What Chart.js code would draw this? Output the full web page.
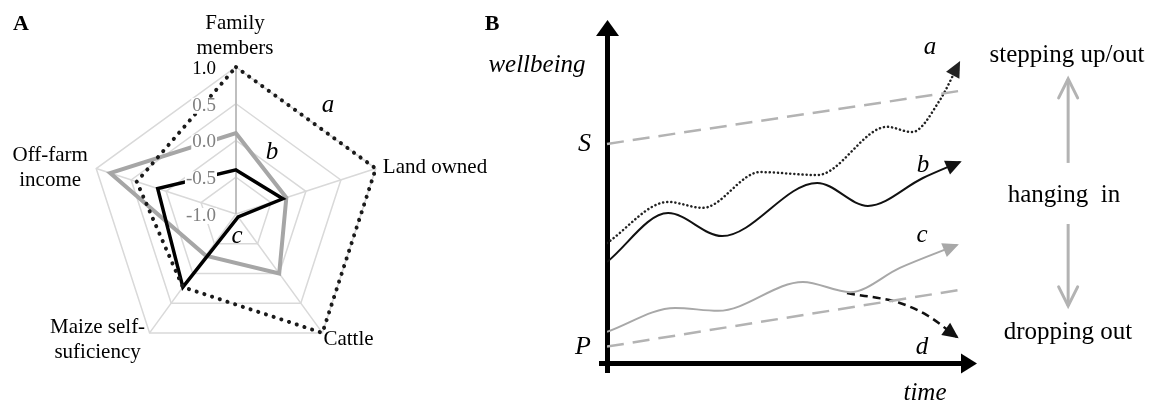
<!DOCTYPE html>
<html>
<head>
<meta charset="utf-8">
<script src="https://cdn.jsdelivr.net/npm/chart.js@4.4.1/dist/chart.umd.min.js"></script>
<style>
  html, body { margin: 0; padding: 0; background: #fff; }
  #wrap { position: relative; width: 1151px; height: 401px; overflow: hidden; font-family: "Liberation Serif", "Times New Roman", serif; }
  canvas { position: absolute; top: 0; }
  #radar { left: 0; }
  #paths { left: 540px; }
  .note { position: absolute; transform: translate(-50%, -50%); white-space: pre; line-height: 1; color: #000; }
  .it { font-style: italic; font-size: 25px; }
  .panel { font-weight: bold; font-size: 22px; }
  .state { font-size: 25px; }
</style>
</head>
<body>
<div id="wrap">
  <canvas id="radar" width="540" height="401"></canvas>
  <canvas id="paths" width="611" height="401"></canvas>

  <span class="note panel" style="left:21px;top:23px">A</span>
  <span class="note panel" style="left:492px;top:23px">B</span>

  <span class="note it" style="left:328px;top:103px">a</span>
  <span class="note it" style="left:272px;top:150px">b</span>
  <span class="note it" style="left:237px;top:234px">c</span>

  <span class="note it" style="left:537px;top:63px">wellbeing</span>
  <span class="note it" style="left:925px;top:391px">time</span>
  <span class="note it" style="left:930px;top:45px">a</span>
  <span class="note it" style="left:923px;top:163px">b</span>
  <span class="note it" style="left:922px;top:233px">c</span>
  <span class="note it" style="left:922px;top:345px">d</span>

  <span class="note state" style="left:1067px;top:53px">stepping up/out</span>
  <span class="note state" style="left:1064px;top:193px">hanging  in</span>
  <span class="note state" style="left:1068px;top:330px">dropping out</span>
</div>

<script>
// Panel A: household profiles on five assets (standardised, -1 .. 1)
const assetLabels = [['Family', 'members'], ['Land owned'], ['Cattle'], ['Maize self-', 'suficiency'], ['Off-farm', 'income']];
const householdA = [1.0, 1.0, 1.0, 0.23, 0.42];
const householdB = [0.1, -0.28, 0.0, -0.3, 0.8];
const householdC = [-0.4, -0.33, -0.95, 0.23, 0.12];

// Panel B: wellbeing pathways over time (arbitrary units 0..100)
const timeA = [0, 17.2, 27.0, 43.1, 59.2, 78.9, 85.9, 93.8, 99.2];
const wellA = [36.6, 49.1, 47.3, 58.2, 57.3, 72.0, 70.4, 80.2, 91.5];
const timeB = [0, 17.2, 32.4, 59.2, 73.5, 89.0, 99.4];
const wellB = [30.8, 45.7, 38.7, 54.9, 47.9, 56.4, 61.3];
const timeC = [0, 19.2, 31.3, 55.2, 68.5, 82.5, 98.6];
const wellC = [9.5, 16.8, 15.9, 24.7, 21.6, 29.0, 36.0];
const timeD = [67.6, 82.5, 90.1, 98.6];
const wellD = [21.3, 18.3, 14.6, 7.9];

// threshold lines S (stepping up) and P (poverty)
const steppingTime = [0, 100.8];
const steppingLine = [66.8, 83.2];
const povertyTime = [0, 99.4];
const povertyLine = [5.0, 22.3];
const levelNames = ['P', 'S'];
const levelValues = [4.9, 66.8];

// vertical movement arrows beside the plot
const moveTime = [129.9, 129.9];
const moveUp = [61.0, 86.6];
const moveDown = [42.4, 17.4];

const toPoints = (xs, ys) => xs.map((x, i) => ({ x: x, y: ys[i] }));

// where each category label sits relative to its spoke end
const labelPlacement = [
  { align: 'center', dx: -1, dy: -44 },
  { align: 'left', dx: 7, dy: -1 },
  { align: 'left', dx: 1, dy: 7 },
  { align: 'center', dx: -52, dy: -5 },
  { align: 'center', dx: -46, dy: -13 },
];

const radarLabels = {
  id: 'radarLabels',
  afterDatasetsDraw(chart) {
    const r = chart.scales.r;
    const ctx = chart.ctx;
    ctx.save();
    // tick labels left of the vertical spoke, on a white backing
    ctx.font = '19px "Liberation Serif"';
    ctx.textAlign = 'right';
    ctx.textBaseline = 'middle';
    r.ticks.forEach((tick, i) => {
      const text = tick.value.toFixed(1);
      const x = r.xCenter - 20;
      const y = r.yCenter - r.getDistanceFromCenterForValue(tick.value) + 2;
      const w = ctx.measureText(text).width;
      ctx.fillStyle = '#fff';
      ctx.fillRect(x - w - 1, y - 8, w + 2, 16);
      ctx.fillStyle = i === r.ticks.length - 1 ? '#000' : '#808080';
      ctx.fillText(text, x, y);
    });
    // category labels
    ctx.font = '21px "Liberation Serif"';
    ctx.fillStyle = '#000';
    chart.data.labels.forEach((lines, i) => {
      const p = r.getPointPosition(i, r.drawingArea);
      const o = labelPlacement[i];
      ctx.textAlign = o.align;
      lines.forEach((line, k) => ctx.fillText(line, p.x + o.dx, p.y + o.dy + k * 25));
    });
    ctx.restore();
  }
};

new Chart(document.getElementById('radar'), {
  type: 'radar',
  data: {
    labels: assetLabels,
    datasets: [
      { label: 'a', data: householdA, borderColor: '#1a1a1a', borderWidth: 4, borderDash: [0.1, 8], borderCapStyle: 'round', borderJoinStyle: 'round' },
      { label: 'c', data: householdC, borderColor: '#000', borderWidth: 3.5 },
      { label: 'b', data: householdB, borderColor: '#a6a6a6', borderWidth: 4 },
    ]
  },
  options: {
    responsive: false,
    animation: false,
    devicePixelRatio: 1,
    layout: { padding: { left: 89, top: 67, right: 157, bottom: 40 } },
    elements: { point: { radius: 0 }, line: { fill: false, tension: 0 } },
    plugins: { legend: { display: false }, tooltip: { enabled: false } },
    scales: {
      r: {
        min: -1,
        max: 1,
        ticks: { display: false, stepSize: 0.5 },
        pointLabels: { display: false },
        grid: { color: '#d9d9d9', lineWidth: 1.5 },
        angleLines: {
          color: c => c.index === 0 ? '#bfbfbf' : '#d9d9d9',
          lineWidth: c => c.index === 0 ? 2 : 1.5
        }
      }
    }
  },
  plugins: [radarLabels]
});

function drawHead(ctx, x, y, ang, style, color) {
  ctx.save();
  ctx.translate(x, y);
  ctx.rotate(ang);
  if (style === 'open') {
    ctx.strokeStyle = color;
    ctx.lineWidth = 3;
    ctx.lineCap = 'round';
    ctx.beginPath();
    ctx.moveTo(-19, -9.5);
    ctx.lineTo(0, 0);
    ctx.lineTo(-19, 9.5);
    ctx.stroke();
  } else {
    ctx.fillStyle = color;
    ctx.beginPath();
    ctx.moveTo(2, 0);
    ctx.lineTo(-14, -7.5);
    ctx.lineTo(-14, 7.5);
    ctx.closePath();
    ctx.fill();
  }
  ctx.restore();
}

const arrows = {
  id: 'arrows',
  afterDatasetsDraw(chart) {
    const ctx = chart.ctx;
    chart.data.datasets.forEach((ds, i) => {
      if (!ds.arrow) return;
      const pts = chart.getDatasetMeta(i).data;
      const end = pts[pts.length - 1];
      const before = pts[pts.length - 2];
      let bx = end.cp1x, by = end.cp1y;
      if (bx === undefined || Math.hypot(end.x - bx, end.y - by) < 1) { bx = before.x; by = before.y; }
      drawHead(ctx, end.x, end.y, Math.atan2(end.y - by, end.x - bx), ds.arrow, ds.borderColor);
    });
  },
  afterDraw(chart) {
    const ctx = chart.ctx;
    const { left, right, top, bottom } = chart.chartArea;
    ctx.save();
    ctx.fillStyle = '#000';
    ctx.beginPath();
    ctx.moveTo(left + 0.5, top - 15);
    ctx.lineTo(left - 11, top + 1);
    ctx.lineTo(left + 12, top + 1);
    ctx.closePath();
    ctx.fill();
    ctx.beginPath();
    ctx.moveTo(right + 15, bottom + 0.5);
    ctx.lineTo(right - 1, bottom - 9.5);
    ctx.lineTo(right - 1, bottom + 10.5);
    ctx.closePath();
    ctx.fill();
    ctx.fillRect(left - 2, bottom, 5, 10);
    ctx.fillRect(left - 8, bottom - 2, 8, 5);
    ctx.restore();
  }
};

new Chart(document.getElementById('paths'), {
  type: 'line',
  data: {
    datasets: [
      { data: toPoints(steppingTime, steppingLine), borderColor: '#b3b3b3', borderWidth: 2.5, borderDash: [17, 9], clip: false },
      { data: toPoints(povertyTime, povertyLine), borderColor: '#b3b3b3', borderWidth: 2.5, borderDash: [17, 9] },
      { data: toPoints(timeC, wellC), borderColor: '#a8a8a8', borderWidth: 2, cubicInterpolationMode: 'monotone', arrow: 'solid' },
      { data: toPoints(timeD, wellD), borderColor: '#111', borderWidth: 2.5, borderDash: [8, 5], cubicInterpolationMode: 'monotone', arrow: 'solid' },
      { data: toPoints(timeB, wellB), borderColor: '#111', borderWidth: 2, cubicInterpolationMode: 'monotone', arrow: 'solid' },
      { data: toPoints(timeA, wellA), borderColor: '#222', borderWidth: 2.5, borderDash: [0.1, 4], borderCapStyle: 'round', cubicInterpolationMode: 'monotone', arrow: 'solid' },
      { data: toPoints(moveTime, moveUp), borderColor: '#b3b3b3', borderWidth: 3, clip: false, arrow: 'open' },
      { data: toPoints(moveTime, moveDown), borderColor: '#b3b3b3', borderWidth: 3, clip: false, arrow: 'open' },
    ]
  },
  options: {
    responsive: false,
    animation: false,
    devicePixelRatio: 1,
    layout: { padding: { left: 0, top: 35, right: 189, bottom: 38 } },
    elements: { point: { radius: 0 }, line: { fill: false, tension: 0 } },
    plugins: { legend: { display: false }, tooltip: { enabled: false } },
    scales: {
      x: {
        type: 'linear',
        min: 0,
        max: 100,
        ticks: { display: false },
        grid: { display: false, drawTicks: false },
        border: { color: '#000', width: 5 },
        afterFit: s => { s.height = 0; }
      },
      y: {
        min: 0,
        max: 100,
        grid: { display: false, drawTicks: false },
        border: { color: '#000', width: 5 },
        afterBuildTicks: s => { s.ticks = levelValues.map(v => ({ value: v })); },
        ticks: {
          callback: (v, i) => levelNames[i],
          font: { family: 'Liberation Serif', size: 26, style: 'italic' },
          color: '#000',
          padding: 16
        },
        afterFit: s => { s.width = 67; }
      }
    }
  },
  plugins: [arrows]
});
</script>
</body>
</html>
